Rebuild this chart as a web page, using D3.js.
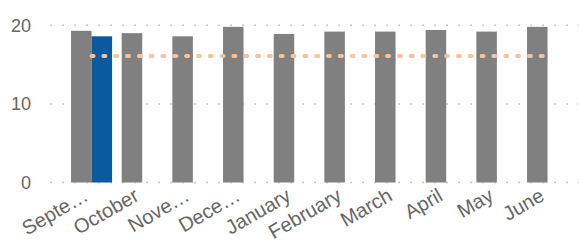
<!DOCTYPE html>
<html>
<head>
<meta charset="utf-8">
<script src="https://cdn.jsdelivr.net/npm/d3@7"></script>
<style>
  html, body { margin: 0; padding: 0; background: #fff; }
  svg { display: block; font-family: "Liberation Sans", Arial, sans-serif; }
</style>
</head>
<body>
<div id="chart"></div>
<script>
const months = ['September', 'October', 'November', 'December', 'January', 'February', 'March', 'April', 'May', 'June'];
const tickLabels = ['Septe…', 'October', 'Nove…', 'Dece…', 'January', 'February', 'March', 'April', 'May', 'June'];
const seriesGray = [19.3, 19.0, 18.6, 19.8, 18.9, 19.2, 19.2, 19.4, 19.2, 19.8];
const seriesBlue = [18.6, null, null, null, null, null, null, null, null, null];
const average = [16.1, 16.1, 16.1, 16.1, 16.1, 16.1, 16.1, 16.1, 16.1, 16.1];
const yTicks = [0, 10, 20];

const COLOR_GRAY = '#808080';
const COLOR_BLUE = '#0A5AA0';
const COLOR_AVG = '#F6C39C';
const COLOR_TEXT = '#666666';

const width = 579, height = 240;

const svg = d3.select('#chart').append('svg')
  .attr('width', width)
  .attr('height', height);

const x = d3.scaleBand().domain(months).range([60.9, 578.2]).paddingInner(0.19).paddingOuter(0.2);
const xSub = d3.scaleBand().domain(['gray', 'blue']).range([0, x.bandwidth()]);
const y = d3.scaleLinear().domain([0, 20]).range([182.5, 25.3]);

// dotted gridlines
svg.append('g')
  .selectAll('line')
  .data(yTicks)
  .join('line')
  .attr('x1', 51)
  .attr('x2', width)
  .attr('y1', d => y(d))
  .attr('y2', d => y(d))
  .attr('stroke', '#c8c8c8')
  .attr('stroke-width', 2)
  .attr('stroke-linecap', 'round')
  .attr('stroke-dasharray', '0.1 11.9');

// y labels
svg.append('g')
  .selectAll('text')
  .data(yTicks)
  .join('text')
  .attr('x', 31)
  .attr('y', d => y(d))
  .attr('dy', '0.35em')
  .attr('text-anchor', 'end')
  .attr('font-size', 18)
  .attr('fill', COLOR_TEXT)
  .text(d => d);

// bars
const rows = months.map((m, i) => ({ month: m, gray: seriesGray[i], blue: seriesBlue[i] }));

svg.append('g')
  .selectAll('rect')
  .data(rows)
  .join('rect')
  .attr('x', d => x(d.month) + xSub('gray'))
  .attr('width', xSub.bandwidth())
  .attr('y', d => y(d.gray))
  .attr('height', d => y(0) - y(d.gray))
  .attr('fill', COLOR_GRAY);

svg.append('g')
  .selectAll('rect')
  .data(rows.filter(d => d.blue != null))
  .join('rect')
  .attr('x', d => x(d.month) + xSub('blue'))
  .attr('width', xSub.bandwidth())
  .attr('y', d => y(d.blue))
  .attr('height', d => y(0) - y(d.blue))
  .attr('fill', COLOR_BLUE);

// average line
const line = d3.line()
  .x((d, i) => x(months[i]) + x.bandwidth() / 2)
  .y(d => y(d));

svg.append('path')
  .datum(average)
  .attr('d', line)
  .attr('fill', 'none')
  .attr('stroke', COLOR_AVG)
  .attr('stroke-width', 4)
  .attr('stroke-linecap', 'round')
  .attr('stroke-dasharray', '2 9.82');

// x labels
svg.append('g')
  .selectAll('text')
  .data(months)
  .join('text')
  .attr('transform', d => `translate(${x(d) + x.bandwidth() / 2 - 2},${y(0) + 17}) rotate(-30)`)
  .attr('text-anchor', 'end')
  .attr('font-size', 20)
  .attr('fill', COLOR_TEXT)
  .text((d, i) => tickLabels[i]);
</script>
</body>
</html>
